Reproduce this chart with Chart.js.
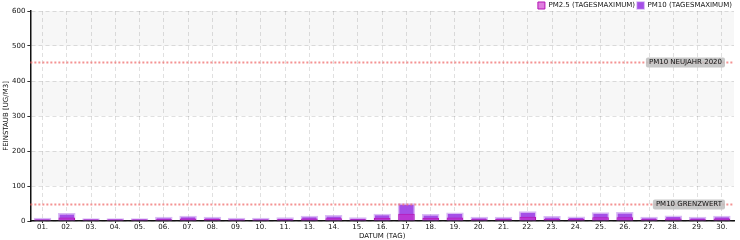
<!DOCTYPE html>
<html>
<head>
<meta charset="utf-8">
<script src="https://cdn.jsdelivr.net/npm/chart.js@4"></script>
<style>
  html, body { margin: 0; padding: 0; background: #fff; }
  #wrap { width: 740px; height: 240px; }
</style>
</head>
<body>
<div id="wrap"><canvas id="chart"></canvas></div>
<script>
// Tage (12. fehlt in den Daten)
const days = ['01.', '02.', '03.', '04.', '05.', '06.', '07.', '08.', '09.', '10.', '11.', '13.', '14.', '15.', '16.', '17.', '18.', '19.', '20.', '21.', '22.', '23.', '24.', '25.', '26.', '27.', '28.', '29.', '30.'];
const pm25Max = [4, 10, 4, 4, 4, 5, 7, 6, 4, 4, 5, 7, 8, 5, 9, 21, 9, 10, 5, 6, 12, 6, 6, 11, 11, 5, 7, 5, 7];
const pm10Max = [9, 23, 8, 8, 8, 12, 15, 12, 9, 9, 11, 15, 17, 11, 21, 51, 20, 24, 12, 12, 28, 14, 13, 25, 26, 12, 16, 12, 15];
const limitValues = [455, 50];
const limitLabels = ['PM10 NEUJAHR 2020', 'PM10 GRENZWERT'];

const FONT = 'DejaVu Sans';

// abwechselnd graue Streifen im Hintergrund
const bandPlugin = {
    id: 'bands',
    beforeDraw(chart) {
        const { ctx, chartArea, scales } = chart;
        const y = scales.y;
        ctx.save();
        ctx.fillStyle = '#f7f7f7';
        for (let v = 100; v < 600; v += 200) {
            const top = y.getPixelForValue(v + 100);
            const bottom = y.getPixelForValue(v);
            ctx.fillRect(chartArea.left, top, chartArea.right - chartArea.left, bottom - top);
        }
        ctx.restore();
    }
};

// Legende soll kaum Platz wegnehmen (überlappt den oberen Rand)
const tightLegend = {
    id: 'tightLegend',
    beforeLayout(chart) {
        const legend = chart.legend;
        if (!legend || legend._tight) return;
        const origFit = legend.fit;
        legend.fit = function () {
            origFit.call(this);
            this.height -= 8;
        };
        legend._tight = true;
    }
};

// Grenzwert-Linien mit Beschriftung
const limitPlugin = {
    id: 'limits',
    afterDatasetsDraw(chart) {
        const { ctx, chartArea, scales } = chart;
        ctx.save();
        limitValues.forEach((val, i) => {
            const py = Math.round(scales.y.getPixelForValue(val)) + 0.5;
            ctx.strokeStyle = 'rgba(240, 110, 110, 0.75)';
            ctx.lineWidth = 2;
            ctx.setLineDash([2, 2]);
            ctx.beginPath();
            ctx.moveTo(chartArea.left, py);
            ctx.lineTo(chartArea.right, py);
            ctx.stroke();

            ctx.setLineDash([]);
            ctx.font = '7px ' + FONT;
            const w = ctx.measureText(limitLabels[i]).width + 6;
            const h = 10;
            const x = chartArea.right - 9 - w;
            ctx.fillStyle = 'rgba(190, 190, 190, 0.85)';
            ctx.beginPath();
            ctx.roundRect(x, py - h / 2, w, h, 2);
            ctx.fill();
            ctx.fillStyle = '#111';
            ctx.textBaseline = 'middle';
            ctx.fillText(limitLabels[i], x + 3, py);
        });
        ctx.restore();
    }
};

const ctx = document.getElementById('chart').getContext('2d');
const chart = new Chart(ctx, {
    type: 'bar',
    data: {
        labels: days,
        datasets: [{
            label: 'PM2.5 (TAGESMAXIMUM)',
            data: pm25Max,
            backgroundColor: 'rgba(200, 40, 200, 0.6)',
            borderColor: 'rgba(180, 20, 180, 1)',
            borderWidth: 1,
            grouped: false,
            barPercentage: 0.68,
            categoryPercentage: 1
        }, {
            label: 'PM10 (TAGESMAXIMUM)',
            data: pm10Max,
            backgroundColor: 'rgba(160, 70, 230, 0.95)',
            borderColor: 'rgba(180, 120, 235, 0.5)',
            borderWidth: 1.5,
            grouped: false,
            barPercentage: 0.72,
            categoryPercentage: 1
        }]
    },
    options: {
        responsive: true,
        maintainAspectRatio: false,
        animation: false,
        layout: { padding: { top: 0, right: 6, bottom: 0, left: 3 } },
        plugins: {
            legend: {
                position: 'top',
                align: 'end',
                labels: {
                    boxWidth: 7,
                    boxHeight: 7,
                    padding: 2,
                    color: '#111',
                    font: { family: FONT, size: 7, lineHeight: 1 }
                }
            },
            tooltip: { enabled: false }
        },
        scales: {
            x: {
                grid: {
                    offset: false,
                    color: 'rgba(0,0,0,0.12)',
                    tickColor: '#222',
                    tickLength: 2,
                    tickBorderDash: []
                },
                border: { color: '#111', width: 1.5, dash: [4, 3] },
                ticks: {
                    color: '#111',
                    padding: 1,
                    maxRotation: 0,
                    autoSkip: false,
                    font: { family: FONT, size: 7, lineHeight: 1 }
                },
                title: {
                    display: true,
                    text: 'DATUM (TAG)',
                    color: '#111',
                    padding: { top: 1, bottom: 0 },
                    font: { family: FONT, size: 7, lineHeight: 1 }
                }
            },
            y: {
                min: 0,
                max: 600,
                ticks: {
                    stepSize: 100,
                    color: '#111',
                    padding: 2,
                    font: { family: FONT, size: 7, lineHeight: 1 }
                },
                grid: {
                    color: 'rgba(0,0,0,0.12)',
                    tickColor: '#333',
                    tickLength: 3,
                    tickBorderDash: []
                },
                border: { color: '#111', width: 1.5, dash: [4, 3] },
                title: {
                    display: true,
                    text: 'FEINSTAUB [UG/M3]',
                    color: '#111',
                    padding: 0,
                    font: { family: FONT, size: 7, lineHeight: 1 }
                }
            }
        }
    },
    plugins: [bandPlugin, tightLegend, limitPlugin]
});
</script>
</body>
</html>
